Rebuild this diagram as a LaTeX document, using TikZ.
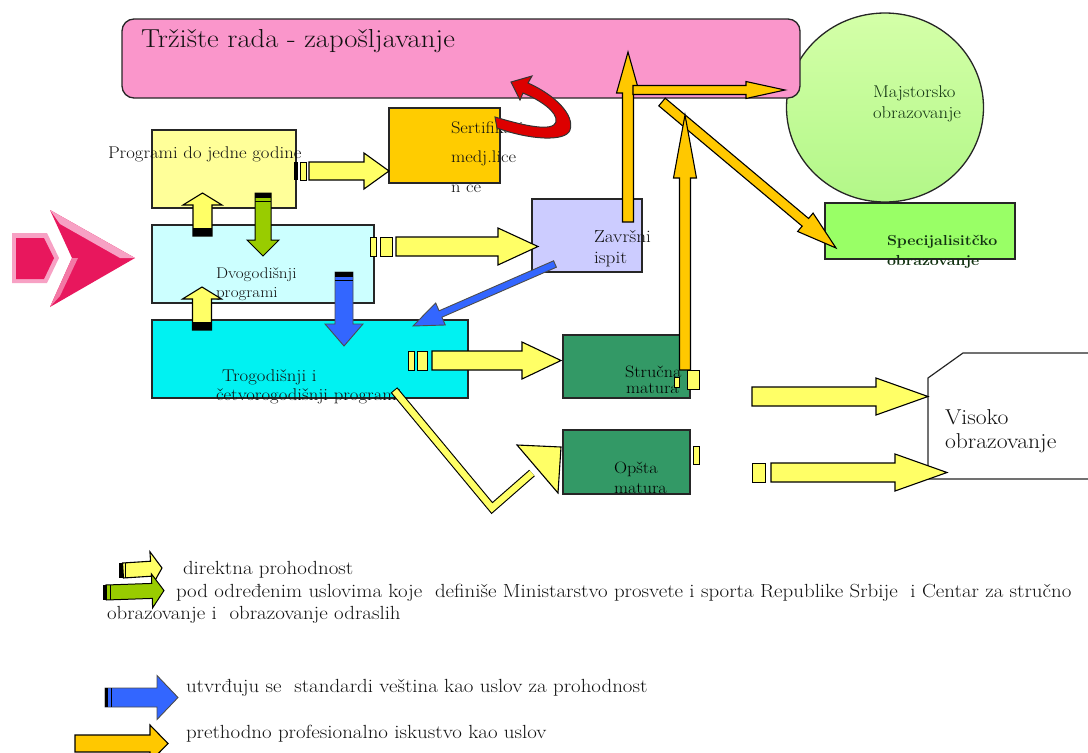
\documentclass[tikz,border=0pt]{standalone}
\usepackage{fontspec}
\usepackage{graphicx}
\usetikzlibrary{calc}
\definecolor{pinkbg}{HTML}{FA96CB}
\definecolor{circtop}{HTML}{D4FFA8}
\definecolor{circbot}{HTML}{B2F788}
\definecolor{specg}{HTML}{99FF66}
\definecolor{sertc}{HTML}{FFCC00}
\definecolor{progc}{HTML}{FFFF99}
\definecolor{dvoc}{HTML}{CCFFFF}
\definecolor{troc}{HTML}{00F2F2}
\definecolor{zavc}{HTML}{CCCCFF}
\definecolor{matc}{HTML}{339966}
\definecolor{ylw}{HTML}{FFFF66}
\definecolor{orng}{HTML}{FFC800}
\definecolor{grn}{HTML}{99CC00}
\definecolor{blu}{HTML}{3366FF}
\definecolor{redc}{HTML}{DD0000}
\definecolor{crim}{HTML}{E8175D}
\definecolor{crimlt}{HTML}{F7A1C4}
\definecolor{txtc}{HTML}{111111}
\definecolor{dgtxt}{HTML}{123212}
\newcommand{\st}[1]{\scalebox{1.1}[1]{#1}}
\newcommand{\blockarr}[6][]{%
  \coordinate (bac) at ($(#3)!#6!(#2)$);
  \draw[#1] ($(#2)!#4!90:(#3)$) -- ($(bac)!#4!90:(#3)$) -- ($(bac)!#5!90:(#3)$) -- (#3)
    -- ($(bac)!#5!-90:(#3)$) -- ($(bac)!#4!-90:(#3)$) -- ($(#2)!#4!-90:(#3)$) -- cycle;
}
\begin{document}
\begin{tikzpicture}[x=1pt,y=-1pt,
  bx/.style={draw=black!85, line width=1.3pt},
  t/.style={anchor=base west, inner sep=0pt, outer sep=0pt, text=txtc},
  yarr/.style={fill=ylw, draw=black, line width=1.1pt, line join=miter},
  oarr/.style={fill=orng, draw=black, line width=1.1pt, line join=miter},
  garr/.style={fill=grn, draw=black, line width=1pt, line join=miter},
  blarr/.style={fill=blu, draw=black!70, line width=0.9pt, line join=miter},
  tailbox/.style={fill=ylw, draw=black, line width=1pt},
  fs/.style={font=\fontsize{#1}{#1}\selectfont}]
\useasboundingbox (0,0) rectangle (1088,753);

% circle and market box
\path[top color=circtop, bottom color=circbot, draw=black!85, line width=1.3pt] (885,107.5) ellipse [x radius=98.5, y radius=94.5];
\node[t, fs=17, text=dgtxt] (majs1) at (873,97) {\st{Majstorsko}};
\node[t, fs=17, text=dgtxt] (majs2) at (873,118) {\st{obrazovanje}};
\draw[bx, fill=pinkbg, rounded corners=12pt] (122,19) rectangle (800,98);
\node[t, fs=26] (title) at (141,47) {\st{Tržište rada - zapošljavanje}};

% boxes
\draw[bx, fill=specg] (825,203) rectangle (1015,259);
\node[t, fs=14.5, text=dgtxt] (spec1) at (887,245) {\st{\bfseries Specijalisitčko}};
\node[t, fs=14.5, text=dgtxt] (spec2) at (887,265) {\st{\bfseries obrazovanje}};

\draw[bx, fill=progc] (152,130) rectangle (296,208);
\node[t, fs=17] (prog) at (108,158) {\st{Programi do jedne godine}};

\draw[bx, fill=sertc] (389,108) rectangle (500,183);
\node[t, fs=16.8] (sert1) at (451,133) {\st{Sertifikati}};
\node[t, fs=16.8] (sert2) at (451,162) {\st{medj.lice}};
\node[t, fs=16.8] (sert3) at (451,192) {\st{n ce}};

\draw[bx, fill=dvoc] (152,225) rectangle (374,303);
\node[t, fs=15.5] (dvo1) at (216,278) {\st{Dvogodišnji}};
\node[t, fs=15.5] (dvo2) at (216,297) {\st{programi}};

\draw[bx, fill=troc] (152,320) rectangle (468,398);
\node[t, fs=17] (tro1) at (222,381) {\st{Trogodišnji i}};
\node[t, fs=17] (tro2) at (216,400) {\st{četvorogodišnji programi}};

\draw[bx, fill=zavc] (532,199) rectangle (642,272);
\node[t, fs=17.5] (zav1) at (594,242) {\st{Završni}};
\node[t, fs=17.5] (zav2) at (594,263) {\st{ispit}};

\draw[bx, fill=matc] (563,335) rectangle (690,398);
\node[t, fs=16.5, text=black] (str1) at (625,377) {\st{Stručna}};
\node[t, fs=16.5, text=black] (str2) at (626,393) {\st{matura}};

\draw[bx, fill=matc] (563,430) rectangle (690,494);
\node[t, fs=16.5, text=black] (ops1) at (614,473) {\st{Opšta}};
\node[t, fs=16.5, text=black] (ops2) at (614,493) {\st{matura}};

\draw[bx, fill=white, line width=1.2pt] (1090,353) -- (963,353) -- (928,378) -- (928,479) -- (1090,479);
\node[t, fs=21.5] (vis1) at (945,424) {\st{Visoko}};
\node[t, fs=21.5] (vis2) at (945,448) {\st{obrazovanje}};

% pink entry chevron
\fill[crimlt] (12,233) -- (47,233) -- (59,258) -- (47,283) -- (12,283) -- cycle;
\fill[crim] (16,238) -- (44,238) -- (54,258) -- (44,279) -- (16,279) -- cycle;
\fill[crim] (50,210) -- (135,258) -- (50,307) -- (72,258) -- cycle;
\fill[crimlt] (50,210) -- (135,258) -- (120,258) -- (60,224) -- cycle;
\fill[crimlt!70!crim] (50,307) -- (72,258) -- (78,258) -- (60,296) -- cycle;

% yellow horizontal arrows with tails
\fill[black] (293.5,162) rectangle (298,180);
\draw[tailbox] (300,162) rectangle (306,180);
\blockarr[yarr]{309,171}{389,171}{9pt}{18pt}{25pt}

\draw[tailbox] (370,237) rectangle (376,256);
\draw[tailbox] (380,237) rectangle (392,256);
\blockarr[yarr]{396,246.5}{538,246.5}{9.5pt}{18.5pt}{40pt}

\draw[tailbox] (408,351) rectangle (414,370);
\draw[tailbox] (417.5,351) rectangle (427.5,370);
\blockarr[yarr]{432,360.5}{561,360.5}{9.5pt}{18.5pt}{39pt}

% vertical arrows between programs
\blockarr[yarr]{202.5,236}{202.5,193}{9.5pt}{19.5pt}{12pt}
\fill[black] (193,228) rectangle (212,236);
\blockarr[yarr]{202,330}{202,287}{9.5pt}{19.5pt}{12pt}
\fill[black] (192.5,322) rectangle (211.5,330);

\blockarr[garr]{263,193}{263,256}{8pt}{16pt}{16pt}
\fill[black] (255,193) rectangle (271,198);
\draw[black, line width=1pt] (255,201) -- (271,201);

\blockarr[blarr]{344,272}{344,346}{9pt}{19pt}{22pt}
\fill[black] (335,272) rectangle (353,277);
\draw[black, line width=1pt] (335,280) -- (353,280);

\blockarr[blarr]{555,264}{413,326}{3.5pt}{12pt}{30pt}

% bent yellow arrow to Opšta matura
\draw[black, line width=8.5pt, line join=miter] (394,390) -- (492,508) -- (532,473);
\draw[ylw, line width=6.3pt, line join=miter, shorten <=1pt] (394,390) -- (492,508) -- (532,473);
\draw[yarr] (561,447) -- (517,445) -- (558,493) -- cycle;

% orange arrows
\blockarr[oarr]{628,222}{628,52}{5.5pt}{11.5pt}{41pt}
\blockarr[oarr]{633,90}{785,90}{4.5pt}{8.5pt}{39pt}
\blockarr[oarr]{662,102}{836,248}{5pt}{12pt}{40pt}
\blockarr[oarr]{685,370}{685,115}{5.5pt}{11.5pt}{63pt}
\draw[tailbox] (674,377) rectangle (679,387);
\draw[tailbox] (687,370) rectangle (699,389);
\draw[tailbox] (693,446) rectangle (699,464);

% arrows to higher education
\blockarr[yarr]{752,396.5}{928,396.5}{9.5pt}{18.5pt}{52pt}
\draw[tailbox] (752,463) rectangle (765,482);
\blockarr[yarr]{771,472.5}{947,472.5}{9.5pt}{18.5pt}{52pt}

% red curved arrow
\filldraw[fill=redc, draw=black!80, line width=1pt, line join=miter]
  (511,82) -- (532,76) -- (528,83)
  .. controls (555,95) and (575,115) .. (570,130)
  .. controls (566,142) and (530,140) .. (497,128)
  -- (495,117)
  .. controls (525,126) and (553,132) .. (556,122)
  .. controls (558,112) and (540,100) .. (523,93)
  -- (520,100) -- cycle;

% legend
\blockarr[yarr]{123,570.5}{162,568}{7.5pt}{17pt}{11pt}
\fill[black] (119,563) rectangle (122.5,578);
\draw[black, line width=0.8pt] (125,563) -- (125,578);
\node[t, fs=19] (leg1) at (183,574) {\st{direktna prohodnost}};

\blockarr[garr]{106,592.5}{164,590.5}{7.5pt}{17pt}{12pt}
\fill[black] (103,585) rectangle (107,600);
\draw[black, line width=0.8pt] (110,585) -- (110,600);
\node[t, fs=19] (leg2) at (176,597) {\st{pod određenim uslovima koje\ \ definiše Ministarstvo prosvete i sporta Republike Srbije\ \ i Centar za stručno}};
\node[t, fs=19] (leg2b) at (107,619) {\st{obrazovanje i\ \ obrazovanje odraslih}};

\blockarr[blarr]{105,697.5}{178,697.5}{9.5pt}{22pt}{21pt}
\fill[black] (105,688) rectangle (108,707);
\draw[black, line width=0.8pt] (111,688) -- (111,707);
\node[t, fs=19] (leg3) at (186,692) {\st{utvrđuju se\ \ standardi veština kao uslov za prohodnost}};

\blockarr[oarr]{75,743.5}{168,743.5}{8.5pt}{18.5pt}{18pt}
\node[t, fs=19] (leg4) at (186,738) {\st{prethodno profesionalno iskustvo kao uslov}};
\end{tikzpicture}
\end{document}
